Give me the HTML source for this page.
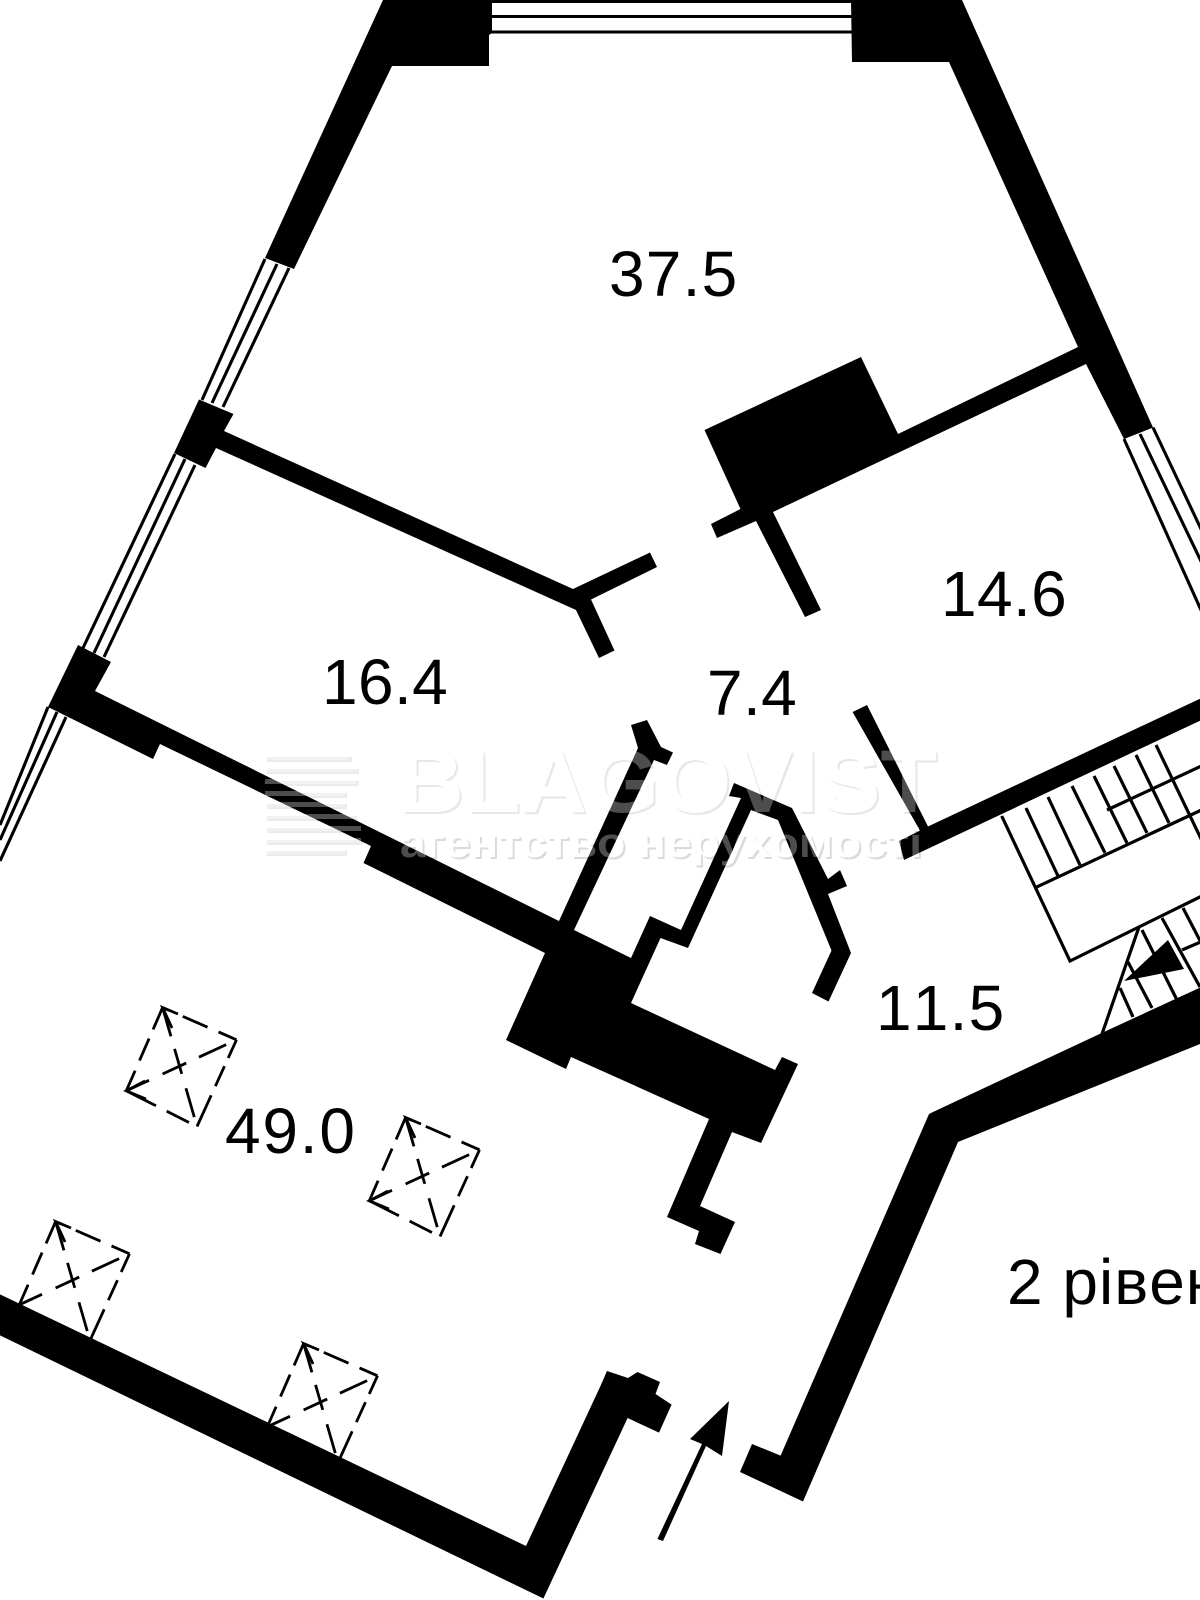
<!DOCTYPE html>
<html lang="uk">
<head>
<meta charset="utf-8">
<title>Floor plan</title>
<style>
html,body{margin:0;padding:0;background:#fff;}
svg{display:block;}
text{font-family:"Liberation Sans",Arial,sans-serif;font-kerning:none;}
</style>
</head>
<body>
<svg xmlns="http://www.w3.org/2000/svg" width="1200" height="1600" viewBox="0 0 1200 1600">
<rect width="1200" height="1600" fill="#fff"/>

<defs>
<g id="sq" fill="none" stroke="#000" stroke-width="2.8">
  <path d="M162.6 1007.6L236.5 1039.8" stroke-dasharray="7 15 27 12 40"/>
  <path d="M236.5 1039.8L197 1126.5" stroke-dasharray="20 9 22 10 40"/>
  <path d="M126.3 1090.8L162.6 1007.6" stroke-dasharray="22 11 24 10 40"/>
  <path d="M162.6 1007.6L197 1126.5" stroke-dasharray="30 13 26 15 30"/>
  <path d="M126.3 1090.8L236.5 1039.8" stroke-dasharray="25 15 26 14 30"/>
  <path d="M172 1028L162.6 1007.6L178 1014"/>
</g>
<g id="sqlow" fill="none" stroke="#000" stroke-width="2.8">
  <path d="M197 1126.5L126.3 1090.8" stroke-dasharray="0 9 25 12 40"/>
  <path d="M145 1081L126.3 1090.8L146 1099"/>
</g>
</defs>
<use href="#sq"/><use href="#sqlow"/>
<use href="#sq" x="243" y="110"/><use href="#sqlow" x="243" y="110"/>
<use href="#sq" x="-107" y="214"/>
<use href="#sq" x="141" y="336"/>

<!-- watermark under-layer: faint shadow edge, then white glyph body -->
<g font-weight="700">
  <text x="399" y="814" font-size="89" textLength="540" lengthAdjust="spacingAndGlyphs" fill="#000" opacity=".09">BLAGOVIST</text>
  <text x="397" y="812" font-size="89" textLength="540" lengthAdjust="spacingAndGlyphs" fill="#fff">BLAGOVIST</text>
  <text x="402" y="859" font-size="42" textLength="522" lengthAdjust="spacingAndGlyphs" fill="#000" opacity=".14">агентство нерухомості</text>
  <text x="400" y="857" font-size="42" textLength="522" lengthAdjust="spacingAndGlyphs" fill="#fff">агентство нерухомості</text>
</g>
<path fill="#000" opacity=".08" d="M267 757h85v5h-85zM267 769h92v5h-92zM267 781h92v5h-92zM267 793h80v5h-80zM267 804h80v5h-80zM267 816h90v5h-90zM267 828h96v5h-96zM267 840h96v5h-96zM267 851h80v5h-80z"/>

<!-- windows -->
<g fill="none" stroke="#000" stroke-width="3.1">
  <path d="M492 1.5H852M492 16.5H852M490 32H852"/>
  <path d="M265 259L202 400M277 264L212 403M289 268L223 407"/>
  <path d="M175 454L83 648M185 459L94 653M195 465L104 657"/>
  <path d="M48 707L0 825M57 712L0 840M66 717L0 861"/>
  <path d="M1153 427.5L1210 548M1140 434L1210 580M1124 439L1210 630"/>
</g>

<!-- stairs -->
<g fill="none" stroke="#000" stroke-width="3.2">
  <path d="M1001.7 816L1070 961L1210 892"/>
  <path d="M1036 887.3L1210 806"/>
  <path d="M1026 808L1058 876M1048 797L1080 865M1072 786L1105 853M1094 776L1127 843M1114 766L1147 833M1136 755L1169 823M1156 745L1204 845"/>
  <path d="M1107 810L1210 762"/>
  <path d="M1139 927L1102 1034"/>
  <path d="M1142 930L1177 1000M1162 918L1200 987M1183 908L1206 952M1128 962L1152 1008M1120 988L1133 1017"/>
  <path d="M1182 950L1210 938"/>
</g>
<path d="M1124 981L1168 940L1184 969Z" fill="#000"/>

<!-- walls -->
<g fill="#000">
  <path d="M383 0H492V33L489 35V66H392L294 269L265 258Z"/>
  <path d="M851 0H962L1153 427.5L1124 439L1086 364L773 512L821 610L805 617L756 521L717 538L711 524L740.5 509L704.5 430L861 357L898 434L1078 347L949 62H852Z"/>
  <path d="M199 399.5L233.5 414L224 431L573 589L650 552.5L657 567L591 599.5L614.5 650.5L599 658L576 610L216 448L205.5 468L174 453Z"/>
  <path d="M78 645L111 662L95 691L559 921L638 748L631 725L647 720L661 747L673 752.5L667 765L654 760L574 930L631 958L650 916L681 930L741 798L729 796L734 783L792 808L828 879L840 870L847 886L828 894L851 953L828.5 1001.5L812 993L831.5 950.5L778 820L751 810L688 948L660.5 938L631 1003L775 1070L782 1057L798 1064L761 1143L732 1132L700 1206L735 1222L720.5 1254L695 1244L699 1231L667 1217L709 1119L600 1070L571 1057L566 1069L506 1040L545 953L363.5 863L371 846L160 744L153 759L48 707Z"/>
  <path d="M852.6 712L867 705L928 826.5L1210 694V716L904 860L899 841L920 830.6Z"/>
  <path d="M933 1112L1101.7 1033L1210 983V1040L958 1142L803 1501.5L740 1472L752 1444L780.6 1455.6L929 1114Z"/>
  <path d="M-5 1292L526 1546L600 1387L607 1371L628 1378L637.5 1372L660 1382L655.5 1394L671.6 1404.6L659 1432.6L627.6 1418L543.4 1598.5L-5 1333Z"/>
  <path d="M657.4 1539L663 1541L706 1446L722 1456L729 1401L690 1439L702 1444Z"/>
</g>

<!-- labels -->
<g font-size="64" fill="#000" letter-spacing=".4">
  <text x="609" y="296" letter-spacing="1.2">37.5</text>
  <text x="322" y="704">16.4</text>
  <text x="941" y="616">14.6</text>
  <text x="707" y="715">7.4</text>
  <text x="225" y="1153" letter-spacing="1.8">49.0</text>
  <text x="876" y="1030" letter-spacing="1.2">11.5</text>
  <text x="1007" y="1304" letter-spacing="1">2 рівень</text>
</g>

<!-- watermark over-layer: translucent white, visible on the black walls -->
<g font-weight="700" fill="#fff" opacity=".3">
  <text x="397" y="812" font-size="89" textLength="540" lengthAdjust="spacingAndGlyphs">BLAGOVIST</text>
  <text x="400" y="857" font-size="42" textLength="522" lengthAdjust="spacingAndGlyphs">агентство нерухомості</text>
  <path d="M265 755h85v5h-85zM265 767h92v5h-92zM265 779h92v5h-92zM265 791h80v5h-80zM265 802h80v5h-80zM265 814h90v5h-90zM265 826h96v5h-96zM265 838h96v5h-96zM265 849h80v5h-80z"/>
</g>
</svg>
</body>
</html>
